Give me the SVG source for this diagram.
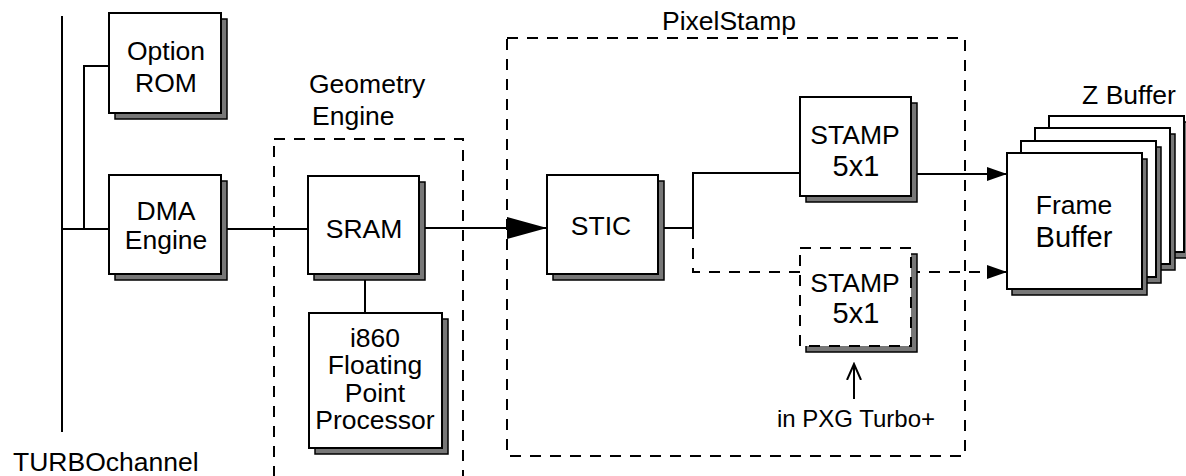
<svg xmlns="http://www.w3.org/2000/svg" width="1186" height="476" viewBox="0 0 1186 476">
<style>
.box{fill:#fff;stroke:#000;stroke-width:2}
.shd{fill:#777;stroke:#000;stroke-width:1.5}
.dbox{fill:#fff;stroke:#000;stroke-width:2;stroke-dasharray:11 9}
.grp{fill:none;stroke:#000;stroke-width:2;stroke-dasharray:11 9}
.ln{fill:none;stroke:#000;stroke-width:2}
.dln{fill:none;stroke:#000;stroke-width:2;stroke-dasharray:11 9}
text{font-family:"Liberation Sans",Arial,sans-serif;font-size:26.5px;fill:#000}
.c{text-anchor:middle}
.big{font-size:29px}
</style>
<defs>
<marker id="big" markerWidth="40" markerHeight="22" refX="40" refY="11" orient="auto" markerUnits="userSpaceOnUse"><path d="M0,0 L40,11 L0,22 Z" fill="#000"/></marker>
<marker id="sm" markerWidth="20" markerHeight="14" refX="20" refY="7" orient="auto" markerUnits="userSpaceOnUse"><path d="M0,0 L20,7 L0,14 Z" fill="#000"/></marker>
<marker id="open" markerWidth="18" markerHeight="18" refX="16" refY="8" orient="auto" markerUnits="userSpaceOnUse"><path d="M0,1 L16,8 L0,15" fill="none" stroke="#000" stroke-width="2"/></marker>
</defs>

<g id="groups">
<rect class="grp" x="274" y="139" width="189" height="360"/>
<text x="309" y="93">Geometry</text>
<text x="312" y="125">Engine</text>
<rect class="grp" x="507" y="38" width="458" height="418"/>
<text class="c" x="729" y="30">PixelStamp</text>
</g>

<g id="connectors">
<line class="ln" x1="62" y1="16" x2="62" y2="432"/>
<polyline class="ln" points="109,66 84,66 84,229"/>
<line class="ln" x1="62" y1="229" x2="109" y2="229"/>
<line class="ln" x1="226" y1="229" x2="308" y2="229"/>
<line class="ln" x1="365" y1="280" x2="365" y2="313"/>
<line class="ln" x1="425" y1="228" x2="547" y2="228" marker-end="url(#big)"/>
<polyline class="ln" points="663,228 693,228 693,173 800,173"/>
<line class="ln" x1="917" y1="174" x2="1007" y2="174" marker-end="url(#sm)"/>
<polyline class="dln" points="693,228 693,272 1007,272"/>
<line class="ln" x1="988" y1="272" x2="1007" y2="272" marker-end="url(#sm)"/>
<line class="ln" x1="854" y1="399" x2="854" y2="364" marker-end="url(#open)"/>
</g>

<g id="option-rom">
<rect class="shd" x="115" y="19" width="112" height="100"/>
<rect class="box" x="109" y="13" width="112" height="100"/>
<text class="c" x="166" y="60">Option</text>
<text class="c" x="166" y="92">ROM</text>
</g>

<g id="dma-engine">
<rect class="shd" x="115" y="181" width="112" height="99"/>
<rect class="box" x="109" y="175" width="112" height="99"/>
<text class="c" x="166" y="220">DMA</text>
<text class="c" x="166" y="249">Engine</text>
</g>

<g id="sram">
<rect class="shd" x="314" y="182" width="111" height="98"/>
<rect class="box" x="308" y="176" width="111" height="98"/>
<text class="c" x="364" y="238">SRAM</text>
</g>

<g id="i860">
<rect class="shd" x="315" y="319" width="133" height="135"/>
<rect class="box" x="309" y="313" width="133" height="135"/>
<text class="c" x="375" y="347">i860</text>
<text class="c" x="375" y="374">Floating</text>
<text class="c" x="375" y="402">Point</text>
<text class="c" x="375" y="429">Processor</text>
</g>

<g id="stic">
<rect class="shd" x="553" y="181" width="111" height="99"/>
<rect class="box" x="547" y="175" width="111" height="99"/>
<text class="c" x="601" y="235">STIC</text>
</g>

<g id="stamp1">
<rect class="shd" x="806" y="103" width="111" height="99"/>
<rect class="box" x="800" y="97" width="111" height="99"/>
<text class="c" x="855" y="144">STAMP</text>
<text class="c big" x="856" y="176">5x1</text>
</g>

<g id="stamp2">
<rect class="shd" x="806" y="254" width="111" height="98"/>
<rect class="dbox" x="800" y="248" width="111" height="98"/>
<text class="c" x="855" y="292">STAMP</text>
<text class="c big" x="856" y="323">5x1</text>
</g>

<g id="note">
<text class="c" x="856" y="427" style="font-size:24px">in PXG Turbo+</text>
</g>

<g id="frame-buffer">
<rect class="shd" x="1054" y="122" width="135" height="136"/>
<rect class="box" x="1049" y="116" width="135" height="136"/>
<rect class="shd" x="1040" y="134" width="135" height="136"/>
<rect class="box" x="1035" y="128" width="135" height="136"/>
<rect class="shd" x="1026" y="147" width="135" height="136"/>
<rect class="box" x="1021" y="141" width="135" height="136"/>
<rect class="shd" x="1012" y="159" width="135" height="136"/>
<rect class="box" x="1007" y="153" width="135" height="136"/>
<text class="c" x="1074" y="214">Frame</text>
<text class="c big" x="1074" y="247">Buffer</text>
<text class="c" x="1129" y="104">Z Buffer</text>
</g>

<g id="bus">
<text x="13" y="471">TURBOchannel</text>
</g>
</svg>
